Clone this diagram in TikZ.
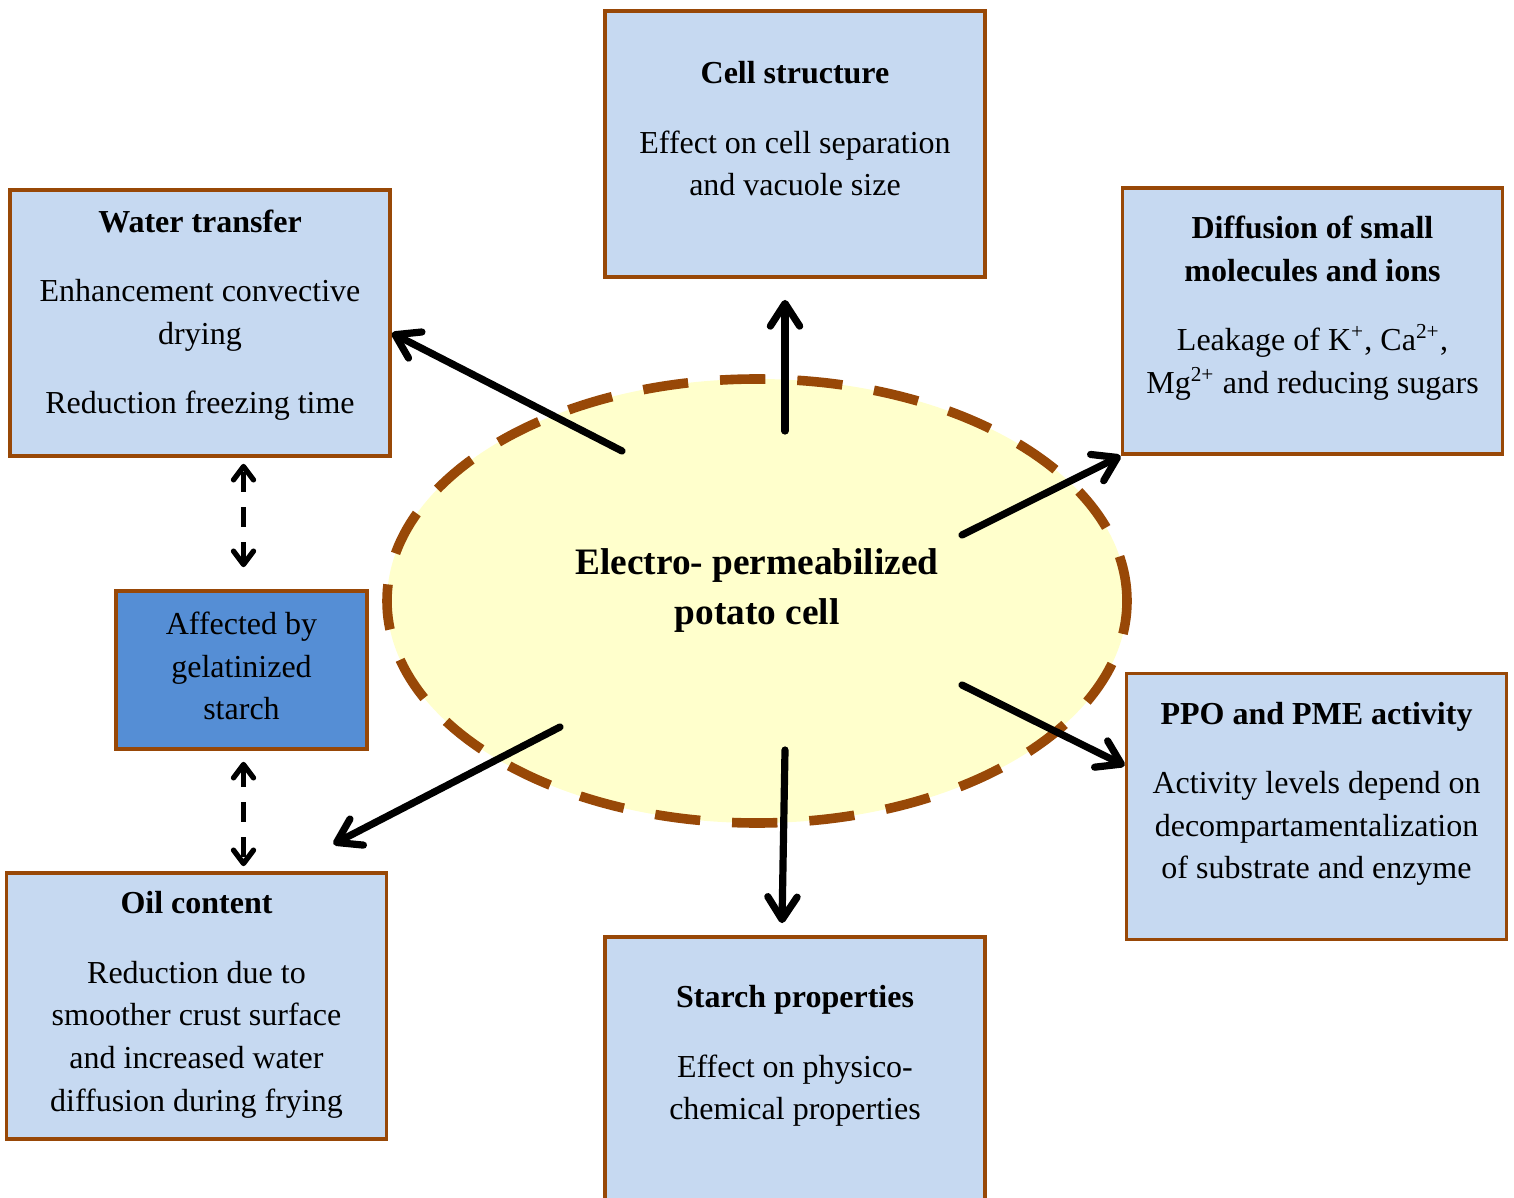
\documentclass[tikz,border=0pt]{standalone}
\usepackage{fontspec}
\setmainfont{Liberation Serif}
\usetikzlibrary{arrows.meta, positioning, shapes.geometric, calc}
\definecolor{boxblue}{HTML}{C6D9F1}
\definecolor{gelblue}{HTML}{558ED5}
\definecolor{rust}{HTML}{984807}
\definecolor{cellyellow}{HTML}{FFFFCC}

\begin{document}
\begin{tikzpicture}[
			x=0.375pt, y=-0.375pt,
			box/.style={draw=rust, line width=1.4pt, fill=boxblue, minimum width=142.5pt, minimum height=99.75pt, inner sep=0pt},
			txt/.style={align=center, font=\fontsize{12}{16}\selectfont},
			cellshape/.style={ellipse, draw=rust, fill=cellyellow, line width=3.6pt, dash pattern=on 17pt off 12pt, minimum width=277.5pt, minimum height=166.5pt},
			arrow/.style={-{Straight Barb[length=8.5pt, width=11pt, round]}, line width=2.7pt, line cap=round},
			link/.style={{Straight Barb[length=5pt, width=7.5pt, round]}-{Straight Barb[length=5pt, width=7.5pt, round]}, line width=2pt, dash pattern=on 7.5pt off 5.6pt}
		]
		\useasboundingbox (0,0) rectangle (1514,1198);

		\node[cellshape] (potato) at (757,601) {};
		\node[txt, font=\fontsize{14}{18.75}\selectfont\bfseries] (potatolabel) at (757,591) {Electro- permeabilized\\potato cell};

		\node[box] (structure) at (795,144) {};
		\node[txt] (structuretxt) at (795,129) {\textbf{Cell structure}\\[10pt]Effect on cell separation\\and vacuole size};

		\node[box] (water) at (200,323) {};
		\node[txt] (watertxt) at (200,315) {\textbf{Water transfer}\\[10pt]Enhancement convective\\drying\\[10pt]Reduction freezing time};

		\node[box] (diffusion) at (1312.5,321) {};
		\node[txt] (diffusiontxt) at (1312.5,308) {\textbf{Diffusion of small}\\\textbf{molecules and ions}\\[10pt]Leakage of K\textsuperscript{+}, Ca\textsuperscript{2+},\\Mg\textsuperscript{2+} and reducing sugars};

		\node[box] (enzyme) at (1316.5,806.5) {};
		\node[txt] (enzymetxt) at (1316.5,794) {\textbf{PPO and PME activity}\\[10pt]Activity levels depend on\\decompartamentalization\\of substrate and enzyme};

		\node[box] (starch) at (795,1070) {};
		\node[txt] (starchtxt) at (795,1056) {\textbf{Starch properties}\\[10pt]Effect on physico-\\chemical properties};

		\node[box] (oil) at (196.5,1006) {};
		\node[txt] (oiltxt) at (196.5,1005) {\textbf{Oil content}\\[10pt]Reduction due to\\smoother crust surface\\and increased water\\diffusion during frying};

		\node[box, fill=gelblue, minimum width=94.1pt, minimum height=59.25pt, txt] (gel) at (241.5,670) {};
		\node[txt] (geltxt) at (241.5,666) {Affected by\\gelatinized\\starch};

		\coordinate (waterstart) at (622,451);
		\coordinate (structurestart) at (785,431);
		\coordinate (diffusionstart) at (962,535);
		\coordinate (enzymestart) at (962,685);
		\coordinate (starchstart) at (785,750);
		\coordinate (oilstart) at (560,727);

		\draw[arrow] (waterstart) -- (water.-3);
		\draw[arrow] (structurestart) -- ($(structure.south)+(-10,21)$);
		\draw[arrow] (diffusionstart) -- (diffusion.south west);
		\draw[arrow] (enzymestart) -- (enzyme.168);
		\draw[arrow] (starchstart) -- ($(starch.north)+(-13,-12)$);
		\draw[arrow] (oilstart) -- ($(oil.north east)+(-55,-27)$);
		\draw[link] ($(gel.north)+(2,-22)$) -- ($(gel.north |- water.south)+(2,6)$);
		\draw[link] ($(gel.south)+(2,11)$) -- ($(gel.south |- oil.north)+(2,-5)$);
	\end{tikzpicture}
\end{document}
